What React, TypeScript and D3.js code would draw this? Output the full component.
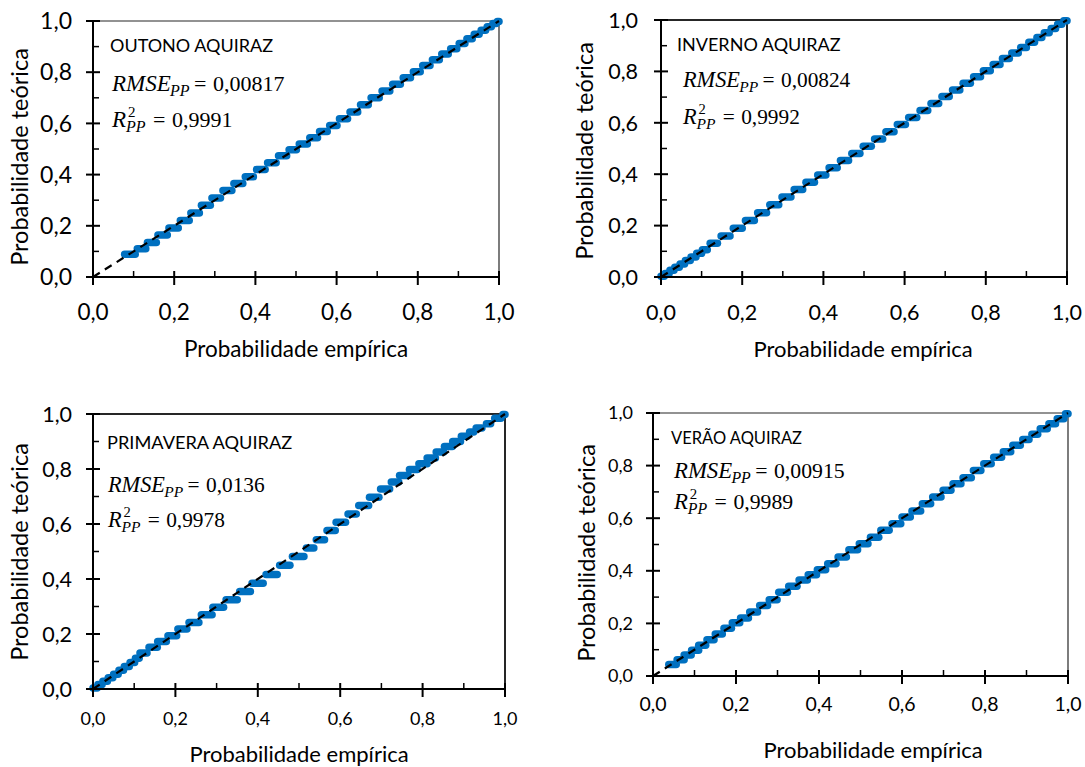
import React from "react";
import * as d3 from "d3";

type Run = [number, number, number]; // [empirical start, empirical end, theoretical]

// ---------- DATA ----------
const outonoRuns: Run[] = [
  [0.078, 0.104, 0.089], [0.109, 0.130, 0.110], [0.134, 0.156, 0.135], [0.160, 0.183, 0.164],
  [0.187, 0.210, 0.191], [0.215, 0.237, 0.221], [0.241, 0.262, 0.250], [0.267, 0.289, 0.280],
  [0.293, 0.314, 0.309], [0.320, 0.342, 0.338], [0.347, 0.369, 0.365], [0.375, 0.395, 0.392],
  [0.403, 0.424, 0.420], [0.430, 0.451, 0.446], [0.457, 0.477, 0.474], [0.483, 0.501, 0.497],
  [0.508, 0.528, 0.520], [0.534, 0.553, 0.544], [0.558, 0.577, 0.568], [0.583, 0.601, 0.592],
  [0.607, 0.627, 0.618], [0.633, 0.652, 0.645], [0.659, 0.678, 0.673], [0.685, 0.705, 0.700],
  [0.712, 0.731, 0.727], [0.738, 0.757, 0.753], [0.764, 0.782, 0.778], [0.789, 0.806, 0.802],
  [0.812, 0.830, 0.826], [0.836, 0.853, 0.849], [0.859, 0.875, 0.871], [0.881, 0.896, 0.892],
  [0.902, 0.916, 0.912], [0.921, 0.934, 0.931], [0.939, 0.951, 0.948], [0.956, 0.967, 0.964],
  [0.971, 0.981, 0.978], [0.985, 0.993, 0.990], [0.996, 1.000, 0.998],
];

const invernoRuns: Run[] = [
  [0.000, 0.008, 0.003], [0.010, 0.020, 0.014], [0.022, 0.032, 0.026], [0.034, 0.045, 0.038],
  [0.047, 0.058, 0.051], [0.060, 0.072, 0.064], [0.074, 0.086, 0.078], [0.088, 0.100, 0.092],
  [0.102, 0.114, 0.106], [0.121, 0.139, 0.131], [0.148, 0.170, 0.160], [0.178, 0.200, 0.190],
  [0.208, 0.230, 0.220], [0.238, 0.260, 0.250], [0.268, 0.290, 0.281], [0.298, 0.320, 0.311],
  [0.328, 0.349, 0.340], [0.357, 0.378, 0.369], [0.386, 0.406, 0.397], [0.414, 0.434, 0.425],
  [0.442, 0.462, 0.453], [0.470, 0.490, 0.481], [0.498, 0.518, 0.509], [0.526, 0.546, 0.537],
  [0.554, 0.574, 0.565], [0.582, 0.602, 0.593], [0.610, 0.630, 0.621], [0.638, 0.657, 0.648],
  [0.665, 0.684, 0.675], [0.692, 0.710, 0.702], [0.718, 0.736, 0.728], [0.744, 0.762, 0.754],
  [0.770, 0.787, 0.779], [0.794, 0.811, 0.803], [0.818, 0.835, 0.827], [0.841, 0.858, 0.850],
  [0.864, 0.880, 0.872], [0.886, 0.900, 0.893], [0.906, 0.920, 0.913], [0.926, 0.938, 0.932],
  [0.944, 0.956, 0.950], [0.961, 0.972, 0.967], [0.977, 0.987, 0.983], [0.992, 1.000, 0.997],
];

const primaveraRuns: Run[] = [
  [0.000, 0.010, 0.004], [0.012, 0.022, 0.016], [0.024, 0.035, 0.028], [0.037, 0.048, 0.041],
  [0.050, 0.061, 0.054], [0.063, 0.074, 0.068], [0.076, 0.088, 0.082], [0.090, 0.101, 0.096],
  [0.103, 0.112, 0.112], [0.114, 0.131, 0.131], [0.136, 0.156, 0.152], [0.157, 0.178, 0.173],
  [0.182, 0.203, 0.194], [0.206, 0.228, 0.218], [0.233, 0.257, 0.242], [0.263, 0.289, 0.270],
  [0.291, 0.317, 0.297], [0.323, 0.350, 0.325], [0.356, 0.382, 0.355], [0.386, 0.413, 0.385],
  [0.420, 0.447, 0.416], [0.453, 0.478, 0.450], [0.484, 0.512, 0.482], [0.518, 0.536, 0.513],
  [0.542, 0.562, 0.543], [0.568, 0.588, 0.576], [0.590, 0.613, 0.606], [0.619, 0.639, 0.636],
  [0.645, 0.669, 0.667], [0.671, 0.694, 0.697], [0.698, 0.720, 0.727], [0.724, 0.742, 0.753],
  [0.744, 0.765, 0.776], [0.768, 0.787, 0.798], [0.791, 0.811, 0.819], [0.811, 0.831, 0.840],
  [0.833, 0.851, 0.862], [0.853, 0.872, 0.882], [0.873, 0.892, 0.900], [0.894, 0.908, 0.919],
  [0.914, 0.924, 0.935], [0.930, 0.944, 0.949], [0.955, 0.965, 0.965], [0.975, 0.990, 0.985],
  [0.995, 1.000, 0.998],
];

const veraoRuns: Run[] = [
  [0.038, 0.056, 0.044], [0.058, 0.075, 0.062], [0.075, 0.092, 0.080], [0.093, 0.110, 0.098],
  [0.110, 0.127, 0.117], [0.130, 0.147, 0.138], [0.150, 0.167, 0.160], [0.171, 0.189, 0.182],
  [0.191, 0.209, 0.202], [0.211, 0.230, 0.221], [0.233, 0.252, 0.243], [0.257, 0.276, 0.268],
  [0.280, 0.299, 0.290], [0.303, 0.324, 0.318], [0.327, 0.347, 0.341], [0.352, 0.372, 0.365],
  [0.374, 0.394, 0.385], [0.396, 0.416, 0.404], [0.421, 0.441, 0.427], [0.446, 0.466, 0.452],
  [0.472, 0.493, 0.480], [0.497, 0.518, 0.503], [0.524, 0.544, 0.528], [0.549, 0.569, 0.554],
  [0.576, 0.597, 0.579], [0.600, 0.620, 0.605], [0.624, 0.645, 0.627], [0.649, 0.669, 0.655],
  [0.674, 0.694, 0.681], [0.699, 0.718, 0.706], [0.723, 0.742, 0.731], [0.747, 0.767, 0.754],
  [0.772, 0.790, 0.781], [0.797, 0.815, 0.807], [0.821, 0.840, 0.832], [0.844, 0.862, 0.853],
  [0.867, 0.885, 0.877], [0.891, 0.906, 0.899], [0.913, 0.927, 0.919], [0.933, 0.950, 0.940],
  [0.954, 0.970, 0.959], [0.974, 0.990, 0.978], [0.994, 1.000, 0.997],
];

const seasonLabels = ["OUTONO AQUIRAZ", "INVERNO AQUIRAZ", "PRIMAVERA AQUIRAZ", "VERÃO AQUIRAZ"];
const rmseValues = ["0,00817", "0,00824", "0,0136", "0,00915"];
const r2Values = ["0,9991", "0,9992", "0,9978", "0,9989"];
const majorTicks = [0, 0.2, 0.4, 0.6, 0.8, 1.0];
const minorTicks = [0.1, 0.3, 0.5, 0.7, 0.9];
const diagonal = [0, 1];
const xTitle = "Probabilidade empírica";
const yTitle = "Probabilidade teórica";

// ---------- LAYOUT ----------
const layouts = [
  { left: 93, right: 499, top: 21, bottom: 277, yTickRight: 72, yTickFont: 23, xTickFont: 22.5, xTickBase: 320,
    xTitleX: 296, xTitleBase: 357, xTitleFont: 22.5, yTitleX: 28, yTitleY: 157, labelX: 110, labelBase: 52, labelFont: 18,
    mathX: 112, rmseBase: 91, r2Base: 127, k: 1, border: 1.2 },
  { left: 661, right: 1067, top: 20, bottom: 277, yTickRight: 638, yTickFont: 21.5, xTickFont: 21.5, xTickBase: 320,
    xTitleX: 863, xTitleBase: 357, xTitleFont: 22, yTitleX: 593, yTitleY: 151, labelX: 677, labelBase: 51, labelFont: 18,
    mathX: 683, rmseBase: 87, r2Base: 124, k: 0.97, border: 2 },
  { left: 93, right: 505, top: 414, bottom: 689, yTickRight: 72, yTickFont: 21.5, xTickFont: 18, xTickBase: 725,
    xTitleX: 299, xTitleBase: 762, xTitleFont: 22, yTitleX: 28, yTitleY: 552, labelX: 107, labelBase: 449, labelFont: 18.2,
    mathX: 108, rmseBase: 492, r2Base: 527, k: 0.97, border: 2 },
  { left: 653, right: 1068, top: 413, bottom: 676, yTickRight: 633, yTickFont: 18, xTickFont: 19.5, xTickBase: 711,
    xTitleX: 873, xTitleBase: 758, xTitleFont: 22, yTitleX: 595, yTitleY: 553, labelX: 671, labelBase: 444, labelFont: 16.5,
    mathX: 674, rmseBase: 478, r2Base: 509, k: 0.99, border: 1.2 },
];

const SANS = "Lato, 'Open Sans', 'Noto Sans', sans-serif";
const MATH = "'Liberation Serif', 'Times New Roman', serif";
const BLUE = "#0070C0";
const fmt = (d: number) => d.toFixed(1).replace(".", ",");

type L = (typeof layouts)[number];

function Panel({ L, runs, label, rmse, r2 }: { L: L; runs: Run[]; label: string; rmse: string; r2: string }) {
  const x = d3.scaleLinear().domain([0, 1]).range([L.left, L.right]);
  const y = d3.scaleLinear().domain([0, 1]).range([L.bottom, L.top]);
  const diagPath = d3.line<number>().x((d) => x(d)).y((d) => y(d))(diagonal) || "";
  const k = L.k;
  const X = L.mathX;
  return (
    <g>
      {/* plot border top/right */}
      <line x1={x(0)} x2={x(1)} y1={y(1)} y2={y(1)} stroke="#262626" strokeWidth={L.border} />
      <line x1={x(1)} x2={x(1)} y1={y(0)} y2={y(1)} stroke="#262626" strokeWidth={L.border} />
      {/* points */}
      {runs.map((r, i) => (
        <line key={i} x1={x(r[0])} x2={x(r[1]) + 0.01} y1={y(r[2])} y2={y(r[2])}
          stroke={BLUE} strokeWidth={7.5} strokeLinecap="round" />
      ))}
      {/* 1:1 line */}
      <path d={diagPath} fill="none" stroke="#000" strokeWidth={2.2} strokeDasharray="8,6" />
      {/* axes */}
      <line x1={x(0)} x2={x(1)} y1={y(0)} y2={y(0)} stroke="#000" strokeWidth={2} />
      <line x1={x(0)} x2={x(0)} y1={y(0)} y2={y(1)} stroke="#000" strokeWidth={2} />
      {majorTicks.map((t) => (
        <g key={"mx" + t}>
          <line x1={x(t)} x2={x(t)} y1={y(0) - 6} y2={y(0) + 8} stroke="#000" strokeWidth={2} />
          <line x1={x(0) - 7} x2={x(0) + 7} y1={y(t)} y2={y(t)} stroke="#000" strokeWidth={2} />
          <text x={x(t)} y={L.xTickBase} textAnchor="middle" fontFamily={SANS} fontSize={L.xTickFont} fill="#000">
            {fmt(t)}
          </text>
          <text x={L.yTickRight} y={y(t)} dy="0.36em" textAnchor="end" fontFamily={SANS} fontSize={L.yTickFont} fill="#000">
            {fmt(t)}
          </text>
        </g>
      ))}
      {minorTicks.map((t) => (
        <g key={"mn" + t}>
          <line x1={x(t)} x2={x(t)} y1={y(0) - 6} y2={y(0)} stroke="#000" strokeWidth={1.5} />
          <line x1={x(0)} x2={x(0) + 6} y1={y(t)} y2={y(t)} stroke="#000" strokeWidth={1.5} />
        </g>
      ))}
      {/* axis titles */}
      <text x={L.xTitleX} y={L.xTitleBase} textAnchor="middle" fontFamily={SANS} fontSize={L.xTitleFont} fill="#000">
        {xTitle}
      </text>
      <text transform={`translate(${L.yTitleX},${L.yTitleY}) rotate(-90)`} textAnchor="middle" fontFamily={SANS}
        fontSize={23.5} fill="#000">
        {yTitle}
      </text>
      {/* annotations */}
      <text x={L.labelX} y={L.labelBase} fontFamily={SANS} fontSize={L.labelFont} fill="#000">{label}</text>
      <text fill="#000" fontFamily={MATH}>
        <tspan x={X} y={L.rmseBase} fontStyle="italic" fontSize={23 * k}>RMSE</tspan>
        <tspan x={X + 58 * k} y={L.rmseBase + 5 * k} fontStyle="italic" fontSize={16 * k}>PP</tspan>
        <tspan x={X + 82 * k} y={L.rmseBase} fontSize={22 * k}>=</tspan>
        <tspan x={X + 101 * k} y={L.rmseBase} fontSize={22 * k}>{rmse}</tspan>
      </text>
      <text fill="#000" fontFamily={MATH}>
        <tspan x={X} y={L.r2Base} fontStyle="italic" fontSize={23 * k}>R</tspan>
        <tspan x={X + 16 * k} y={L.r2Base - 10 * k} fontSize={15 * k}>2</tspan>
        <tspan x={X + 14 * k} y={L.r2Base + 5 * k} fontStyle="italic" fontSize={16 * k}>PP</tspan>
        <tspan x={X + 41 * k} y={L.r2Base} fontSize={22 * k}>=</tspan>
        <tspan x={X + 60 * k} y={L.r2Base} fontSize={22 * k}>{r2}</tspan>
      </text>
    </g>
  );
}

export default function App() {
  const allRuns = [outonoRuns, invernoRuns, primaveraRuns, veraoRuns];
  return (
    <svg width={1085} height={767} style={{ position: "absolute", left: 0, top: 0, background: "#fff" }}>
      <rect width={1085} height={767} fill="#fff" />
      {layouts.map((L, i) => (
        <Panel key={i} L={L} runs={allRuns[i]} label={seasonLabels[i]} rmse={rmseValues[i]} r2={r2Values[i]} />
      ))}
    </svg>
  );
}
